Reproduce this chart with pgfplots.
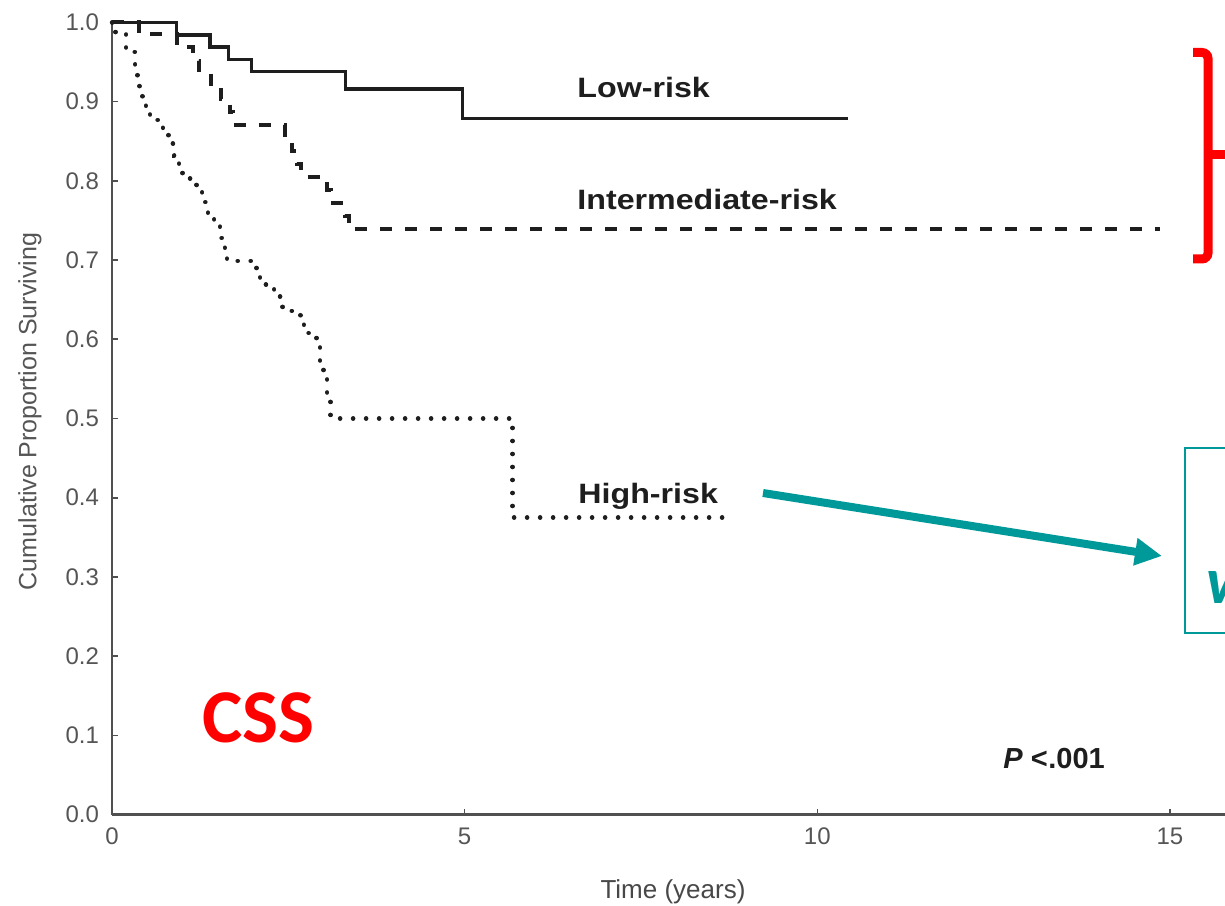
\documentclass[border=0pt]{standalone}
\usepackage{pgfplots}
\pgfplotsset{compat=1.18}
\usetikzlibrary{arrows.meta}
\usepackage{fontspec}
\setmainfont{Liberation Sans}
\newfontfamily\labfont[FakeStretch=1.15]{Liberation Sans}
\newfontfamily\carlito{Carlito}
\definecolor{teal2}{RGB}{0,153,153}
\definecolor{axgray}{RGB}{80,80,80}
\definecolor{txtgray}{RGB}{85,85,85}
\definecolor{curve}{RGB}{30,30,30}
\begin{document}
\begin{tikzpicture}
\path[use as bounding box, fill=white] (-56pt,-45.25pt) rectangle (556.5pt,407.25pt);
\begin{axis}[
  at={(0pt,0pt)}, anchor=south west,
  scale only axis, width=556.5pt, height=396pt,
  xmin=0, xmax=15.78, ymin=0, ymax=1.0,
  axis x line=bottom, axis y line=left,
  axis line style={-, draw=axgray, line width=1.3pt},
  tick align=inside, major tick length=3pt,
  tick style={draw=axgray, line width=0.8pt},
  xtick={0,5,10,15}, xticklabels={0,5,10,15},
  ytick={0,0.1,0.2,0.3,0.4,0.5,0.6,0.7,0.8,0.9,1.0},
  yticklabels={0.0,0.1,0.2,0.3,0.4,0.5,0.6,0.7,0.8,0.9,1.0},
  ticklabel style={font=\fontsize{12}{14}\selectfont, text=txtgray},
  yticklabel style={xshift=-3pt},
  xticklabel style={yshift=-3pt},
  clip=false,
]
\addplot[const plot, mark=none, draw=curve, line width=1.7pt] coordinates {
(0,1.0) (0.917,0.984) (1.39,0.969) (1.65,0.953) (1.98,0.938) (3.31,0.916) (4.97,0.879) (10.44,0.879)};
\addplot[const plot, mark=none, draw=curve, line width=2pt, dash pattern=on 6pt off 6.5pt] coordinates {
(0,1.0) (0.38,0.985) (0.92,0.969) (1.15,0.952) (1.24,0.936) (1.40,0.920) (1.55,0.903) (1.67,0.887) (1.72,0.870)
(2.45,0.854) (2.55,0.838) (2.62,0.821) (2.68,0.805) (3.05,0.789) (3.10,0.772) (3.30,0.756) (3.36,0.739) (14.86,0.739)};
\addplot[const plot, mark=none, draw=curve, line width=2.2pt, line cap=round, dash pattern=on 0.1pt off 6.4pt] coordinates {
(0,1.0) (0.05,0.985) (0.2,0.963) (0.33,0.945) (0.36,0.93) (0.39,0.915) (0.43,0.90) (0.48,0.888) (0.54,0.877)
(0.72,0.862) (0.80,0.847) (0.88,0.832) (0.95,0.817) (1.0,0.803) (1.2,0.788) (1.28,0.773) (1.36,0.758) (1.45,0.743)
(1.53,0.728) (1.6,0.713) (1.63,0.699) (2.05,0.684) (2.10,0.669) (2.3,0.654) (2.42,0.636) (2.67,0.622) (2.72,0.608)
(2.9,0.59) (2.95,0.57) (3.0,0.55) (3.05,0.53) (3.1,0.50) (5.68,0.375) (8.83,0.375)};
\end{axis}
% axis titles
\node[rotate=90, text=txtgray, font=\fontsize{12.5}{15}\selectfont] at (-41pt,201.5pt) {Cumulative Proportion Surviving};
\node[text=txtgray!85!black, font=\fontsize{13}{15}\selectfont] at (280.5pt,-38.75pt) {Time (years)};
% curve labels
\node[anchor=base west, inner sep=0pt, text=curve, font=\labfont\bfseries\fontsize{14}{16}\selectfont] at (232.5pt,358.25pt) {Low-risk};
\node[anchor=base west, inner sep=0pt, text=curve, font=\labfont\bfseries\fontsize{14}{16}\selectfont] at (232.5pt,302.25pt) {Intermediate-risk};
\node[anchor=base west, inner sep=0pt, text=curve, font=\labfont\bfseries\fontsize{14}{16}\selectfont] at (233pt,155.75pt) {High-risk};
\node[anchor=base west, inner sep=0pt, text=curve, font=\bfseries\fontsize{14.5}{16}\selectfont] at (445.5pt,23.25pt) {\textit{P} <\hspace{0.3pt}.001};
% slide annotations
\node[anchor=base west, inner sep=0pt, text=red, font=\carlito\bfseries\fontsize{38}{40}\selectfont] at (45pt,36.25pt) {CSS};
\draw[red, line width=4.5pt, rounded corners=3pt] (540.5pt,381pt) -- (548pt,381pt) -- (548pt,277.75pt) -- (540.5pt,277.75pt);
\draw[red, line width=4.5pt] (548pt,329.75pt) -- (562pt,329.75pt);
\draw[teal2, line width=4pt, -{Triangle[length=13.5pt,width=13pt]}] (325.5pt,160.75pt) -- (525pt,129.25pt);
\draw[teal2, line width=1pt] (574pt,183.25pt) -- (536.5pt,183.25pt) -- (536.5pt,90.75pt) -- (574pt,90.75pt);
\node[anchor=base west, inner sep=0pt, text=teal2, font=\carlito\bfseries\itshape\fontsize{33}{35}\selectfont] at (547pt,105.75pt) {w};
\end{tikzpicture}
\end{document}
